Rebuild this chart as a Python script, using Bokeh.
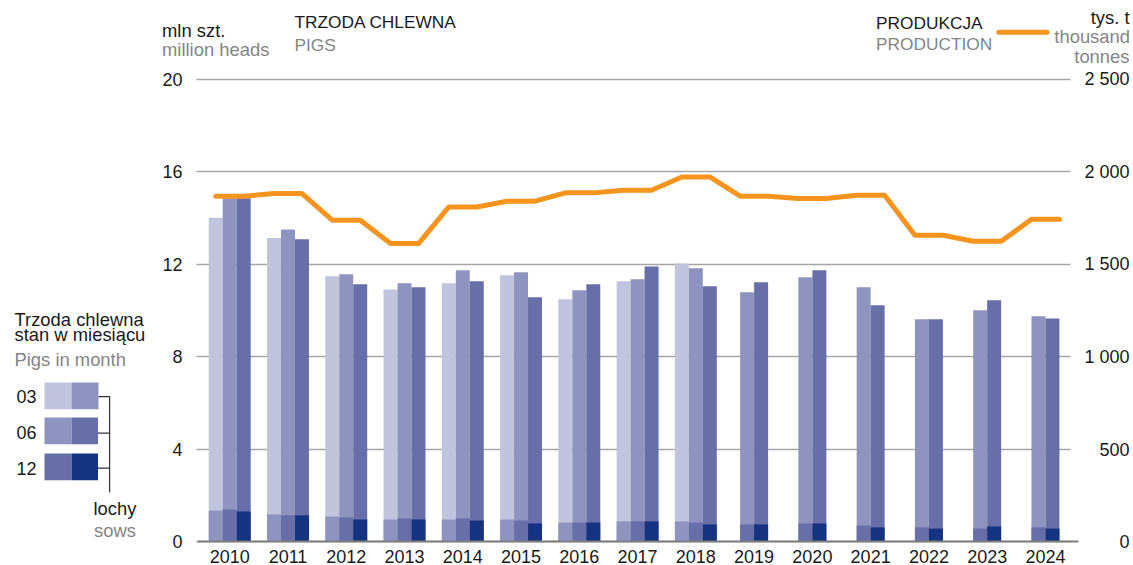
from bokeh.plotting import figure
from bokeh.models import Range1d, FixedTicker
from bokeh.core.properties import value
from bokeh.embed import file_html
from bokeh.resources import INLINE

# ---------------- data ----------------
years = list(range(2010, 2025))
# pigs stock, million heads (March series ends in 2018)
pigs_03 = [14.0, 13.13, 11.47, 10.9, 11.17, 11.52, 10.48, 11.26, 12.02]
pigs_06 = [14.85, 13.5, 11.56, 11.17, 11.73, 11.65, 10.87, 11.34, 11.82,
           10.78, 11.43, 11.0, 9.61, 10.0, 9.74]
pigs_12 = [14.85, 13.07, 11.13, 11.0, 11.26, 10.56, 11.13, 11.9, 11.04,
           11.21, 11.73, 10.22, 9.61, 10.43, 9.65]
# sows, million heads
sows_03 = [1.34, 1.17, 1.08, 0.95, 0.95, 0.95, 0.82, 0.87, 0.87]
sows_06 = [1.38, 1.13, 1.04, 1.0, 1.0, 0.91, 0.82, 0.87, 0.82,
           0.74, 0.78, 0.69, 0.61, 0.56, 0.61]
sows_12 = [1.30, 1.13, 0.95, 0.95, 0.91, 0.78, 0.82, 0.87, 0.74,
           0.74, 0.78, 0.61, 0.56, 0.65, 0.56]
# production, thousand tonnes
production = [1867, 1881, 1737, 1611, 1809, 1840, 1885, 1899, 1971,
              1867, 1854, 1872, 1656, 1623, 1742]

left_ticks = [0, 4, 8, 12, 16, 20]
right_ticks = [0, 500, 1000, 1500, 2000, 2500]
right_tick_labels = ["0", "500", "1 000", "1 500", "2 000", "2 500"]

# ---------------- style / layout ----------------
C_LIGHT = "#c0c4de"
C_MED = "#8f93c0"
C_DARK = "#676ea8"
C_NAVY = "#15337f"
C_ORANGE = "#f7941d"
C_TEXT = "#1a1a1a"
C_GRAY = "#858585"
C_GRID = "#a6a6a6"
FONT = "Liberation Sans"
FS_LOW = "18.4px"
FS_UP = "17.3px"

W, H = 1133, 565
# plotting area in pixels (left, right, top, bottom)
PL, PR, PT, PB = 196, 1070, 74, 541
X0, X1 = -0.57, 14.43          # category axis limits
Y0, Y1 = 0.0, 20.2             # left value axis limits
RATIO = 2500 / 20              # right axis / left axis

kx = (PR - PL) / (X1 - X0)
ky = (PB - PT) / (Y1 - Y0)
xr = Range1d(X0 - PL / kx, X1 + (W - PR) / kx)
yr = Range1d(Y0 - (H - PB) / ky, Y1 + PT / ky)

p = figure(width=W, height=H, output_backend="svg", toolbar_location=None,
           x_range=xr, y_range=yr,
           min_border_left=0, min_border_right=0,
           min_border_top=0, min_border_bottom=0)
p.outline_line_color = None
p.background_fill_color = "white"
p.border_fill_color = "white"
p.extra_y_ranges = {"prod": Range1d(yr.start * RATIO, yr.end * RATIO),
                    "py": Range1d(H, 0)}
p.extra_x_ranges = {"px": Range1d(0, W)}

# ---------------- axes ----------------
yax = p.yaxis[0]
yax.fixed_location = X0
yax.ticker = FixedTicker(ticks=left_ticks)
yax.axis_line_color = None
yax.major_tick_line_color = None
yax.minor_tick_line_color = None
yax.major_tick_out = 0
yax.major_tick_in = 0
yax.major_label_standoff = 14
yax.major_label_text_font = FONT
yax.major_label_text_font_size = "18px"
yax.major_label_text_color = C_TEXT

xax = p.xaxis[0]
xax.fixed_location = 0
xax.bounds = (X0 + 1 / kx, X1 + 8 / kx)
xax.ticker = FixedTicker(ticks=list(range(len(years))))
xax.major_label_overrides = {i: str(y) for i, y in enumerate(years)}
xax.axis_line_color = "#7f7f7f"
xax.axis_line_width = 2
xax.major_tick_line_color = None
xax.minor_tick_line_color = None
xax.major_tick_out = 0
xax.major_tick_in = 0
xax.major_label_standoff = 8
xax.major_label_text_font = FONT
xax.major_label_text_font_size = "18px"
xax.major_label_text_color = C_TEXT

p.xgrid.grid_line_color = None
grid = p.ygrid[0]
if "cross_bounds" in grid.properties():
    grid.cross_bounds = (X0, X1)
    grid.grid_line_color = C_GRID
    grid.grid_line_width = 1.5
else:
    grid.grid_line_color = None
    gt = [t for t in left_ticks if t > 0]
    p.segment(x0=[X0] * len(gt), x1=[X1] * len(gt), y0=gt, y1=gt,
              line_color=C_GRID, line_width=1.5, level="underlay")

# ---------------- bars ----------------
bw = 0.24
x03, x06, x12 = [], [], []
for i in range(len(years)):
    if i < len(pigs_03):
        x03.append(i - bw)
        x06.append(i)
        x12.append(i + bw)
    else:
        x06.append(i - bw / 2)
        x12.append(i + bw / 2)

p.vbar(x=x03, top=pigs_03, width=bw, bottom=0, fill_color=C_LIGHT, line_color=None)
p.vbar(x=x06, top=pigs_06, width=bw, bottom=0, fill_color=C_MED, line_color=None)
p.vbar(x=x12, top=pigs_12, width=bw, bottom=0, fill_color=C_DARK, line_color=None)
p.vbar(x=x03, top=sows_03, width=bw, bottom=0, fill_color=C_MED, line_color=None)
p.vbar(x=x06, top=sows_06, width=bw, bottom=0, fill_color=C_DARK, line_color=None)
p.vbar(x=x12, top=sows_12, width=bw, bottom=0, fill_color=C_NAVY, line_color=None)

# ---------------- production line ----------------
half = 0.24
lx, ly = [], []
for i, v in enumerate(production):
    lx += [i - half, i + half]
    ly += [v, v]
p.line(lx, ly, y_range_name="prod", line_color=C_ORANGE, line_width=5,
       line_join="round", line_cap="round")

# right value-axis labels
p.text(x=[1129] * len(right_ticks), y=right_ticks, text=right_tick_labels,
       x_range_name="px", y_range_name="prod",
       text_align="right", text_baseline="middle",
       text_font=value(FONT), text_font_size=value("18px"), text_color=C_TEXT)


# ---------------- texts and legends ----------------
def lab(x, y, text, size=FS_LOW, color=C_TEXT, align="left"):
    p.text(x=[x], y=[y], text=[text], x_range_name="px", y_range_name="py",
           text_align=align, text_baseline="middle",
           text_font=value(FONT), text_font_size=value(size), text_color=color)


def box(l, r, t, b, color):
    p.quad(left=[l], right=[r], top=[t], bottom=[b],
           x_range_name="px", y_range_name="py",
           fill_color=color, line_color=None)


lab(161.5, 29.5, "mln szt.")
lab(161.5, 48.7, "million heads", color=C_GRAY)
lab(294, 21.5, "TRZODA CHLEWNA", size=FS_UP)
lab(294, 44, "PIGS", size=FS_UP, color=C_GRAY)
lab(875.5, 22, "PRODUKCJA", size=FS_UP)
lab(875.5, 43.5, "PRODUCTION", size=FS_UP, color=C_GRAY)
lab(1129, 17, "tys. t", align="right")
lab(1129.5, 35.5, "thousand", color=C_GRAY, align="right")
lab(1129, 56, "tonnes", color=C_GRAY, align="right")

# production legend line
p.line(x=[998.3, 1046.5], y=[31.7, 31.7], x_range_name="px", y_range_name="py",
       line_color=C_ORANGE, line_width=5, line_cap="round")

# left legend
lab(14, 318.5, "Trzoda chlewna")
lab(14, 334, "stan w miesiącu")
lab(14, 358.5, "Pigs in month", color=C_GRAY)
lab(16, 395.7, "03", size="18px")
lab(16, 432.2, "06", size="18px")
lab(16, 467.5, "12", size="18px")
box(44, 71, 382, 408.7, C_LIGHT)
box(71, 98, 382, 408.7, C_MED)
box(44, 71, 417, 443.7, C_MED)
box(71, 97.5, 417, 443.7, C_DARK)
box(44, 71, 453, 479.7, C_DARK)
box(71, 97.5, 453, 479.7, C_NAVY)
p.multi_line(xs=[[109.1, 109.1], [98, 109.1], [97.5, 109.1], [97.5, 109.1]],
             ys=[[395.5, 492], [396.1, 396.1], [432.6, 432.6], [467.6, 467.6]],
             x_range_name="px", y_range_name="py",
             line_color="#333333", line_width=1.2)
lab(93, 508, "lochy")
lab(93.5, 529.5, "sows", color=C_GRAY)

open("out.html", "w").write(file_html(p, INLINE))
